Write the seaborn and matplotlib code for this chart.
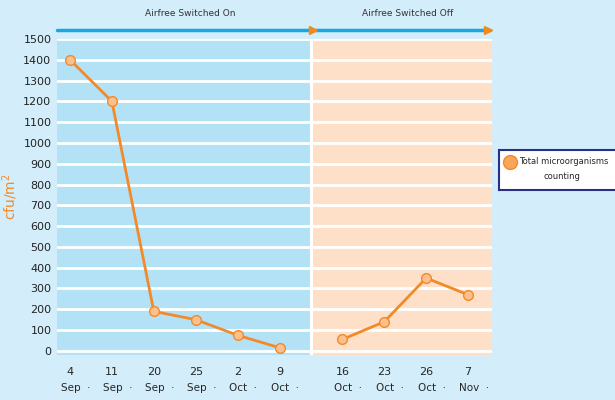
import matplotlib
matplotlib.use("Agg")
import matplotlib.pyplot as plt
import seaborn as sns
import pandas as pd

# ── datos ────────────────────────────────────────────────────────────────────
dias = ["4", "11", "20", "25", "2", "9", "16", "23", "26", "7"]
meses = ["Sep", "Sep", "Sep", "Sep", "Oct", "Oct", "Oct", "Oct", "Oct", "Nov"]
posiciones = [0, 1, 2, 3, 4, 5, 6.5, 7.5, 8.5, 9.5]
cfu = [1400, 1200, 190, 150, 75, 15, 55, 140, 350, 270]
fase_labels = ["Airfree Switched On", "Airfree Switched Off"]
yticks = list(range(0, 1600, 100))

df = pd.DataFrame({"pos": posiciones, "cfu": cfu})

fondo = "#d3eefa"
azul = "#b3e2f7"
melocoton = "#fde0c7"
naranja = "#f28a2a"

sns.set_theme(style="white")
plt.rcParams["font.family"] = ["DejaVu Sans"]

fig = plt.figure(figsize=(6.15, 4), dpi=100, facecolor=fondo)
ax = fig.add_axes([57 / 615, 45 / 400, 435 / 615, 316 / 400])
ax.set_facecolor(fondo)

x_min, x_max, x_div = -0.31, 10.07, 5.76
ax.axvspan(x_min, x_div, color=azul, lw=0, zorder=0)
ax.axvspan(x_div, x_max, color=melocoton, lw=0, zorder=0)
ax.axvline(x_div, color="white", lw=2.2, zorder=1)
for y in yticks:
    ax.axhline(y, color="white", lw=2, zorder=1)

# dos tramos: antes y después de apagar el equipo
for tramo in [df[df["pos"] < x_div], df[df["pos"] > x_div]]:
    sns.lineplot(data=tramo, x="pos", y="cfu", ax=ax, color=naranja,
                 lw=2, marker="o", markersize=7, markerfacecolor="#fcc08f",
                 markeredgecolor=naranja, markeredgewidth=1, zorder=3)

ax.set_xlim(x_min, x_max)
ax.set_ylim(-20, 1500)
ax.set_yticks(yticks)
ax.set_yticklabels([str(v) for v in yticks], fontsize=8, color="#222222")
ax.tick_params(axis="y", length=0, pad=4)
ax.set_xticks([])
ax.set_xlabel("")
ax.set_ylabel("cfu/m$^2$", color=naranja, fontsize=10)
ax.yaxis.set_label_coords(-0.085, 0.5)
for s in ax.spines.values():
    s.set_visible(False)

# etiquetas del eje x en dos líneas
for p, d, m in zip(posiciones, dias, meses):
    ax.annotate(d, (p, 0), xycoords=("data", "axes fraction"), xytext=(0, -12),
                textcoords="offset points", ha="center", va="center", fontsize=8)
    ax.annotate(m + "  ·", (p, 0), xycoords=("data", "axes fraction"), xytext=(4, -24),
                textcoords="offset points", ha="center", va="center", fontsize=7.5)

# flecha superior de fases
ax.plot([x_min, x_max - 0.05], [1.03, 1.03], transform=ax.get_xaxis_transform(),
        color="#1aa7e0", lw=2.5, clip_on=False)
for xa in [x_div + 0.05, x_max - 0.1]:
    ax.plot(xa, 1.03, marker=">", color="#f28a1a", markersize=6,
            transform=ax.get_xaxis_transform(), clip_on=False)
ax.text((x_min + x_div) / 2 + 0.15, 1.08, fase_labels[0], transform=ax.get_xaxis_transform(),
        ha="center", va="center", fontsize=6.5, color="#333333")
ax.text((x_div + x_max) / 2 + 0.15, 1.08, fase_labels[1], transform=ax.get_xaxis_transform(),
        ha="center", va="center", fontsize=6.5, color="#333333")

# leyenda
leg_ax = fig.add_axes([499 / 615, 210 / 400, 140 / 615, 40 / 400])
leg_ax.set_facecolor("white")
for s in leg_ax.spines.values():
    s.set_color("#2a2f86")
    s.set_linewidth(1.5)
leg_ax.set_xticks([])
leg_ax.set_yticks([])
leg_ax.set_xlim(0, 1)
leg_ax.set_ylim(0, 1)
leg_ax.plot(0.08, 0.7, marker="o", markersize=10, color="#f9a55c",
            markeredgecolor="#f08a30")
leg_ax.text(0.14, 0.7, "Total microorganisms", ha="left", va="center", fontsize=6.0)
leg_ax.text(0.45, 0.33, "counting", ha="center", va="center", fontsize=6.0)

fig.savefig("out.png", dpi=100, facecolor=fondo)
